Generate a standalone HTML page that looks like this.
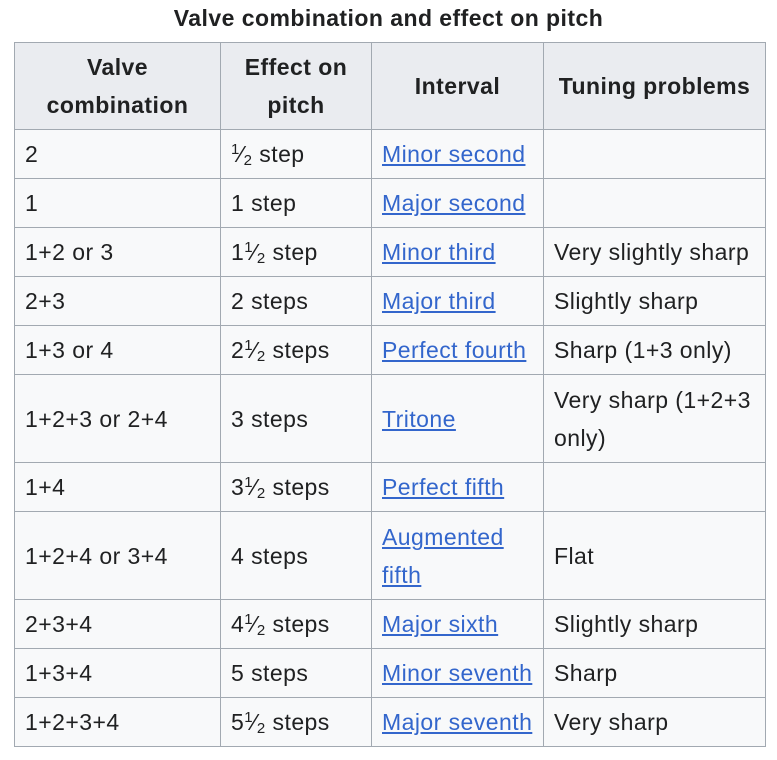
<!DOCTYPE html>
<html><head><meta charset="utf-8"><style>
html,body{margin:0;padding:0;background:#fff;}
body{width:777px;height:760px;position:relative;font-family:"Liberation Sans",Arial,sans-serif;color:#202122;}
.cap{position:absolute;top:5px;left:0;width:777px;text-align:center;font-weight:bold;font-size:23px;letter-spacing:0.45px;}
table{position:absolute;left:14px;top:42px;border-collapse:collapse;table-layout:fixed;width:751px;background:#f8f9fa;font-size:23px;letter-spacing:0.45px;}
td,th{border:1px solid #a2a9b1;padding:0 6px 0 10px;vertical-align:middle;line-height:38px;}
th{background:#eaecf0;font-weight:bold;text-align:center;height:86px;padding:0 2px;}
td{height:48px;}
tr.t td{height:87px;}
a{color:#3366cc;text-decoration:underline;}
.f sup{font-size:15px;vertical-align:8px;line-height:0;letter-spacing:0;}
.f sub{font-size:15px;vertical-align:-3px;line-height:0;}
</style></head><body>
<div class="cap">Valve combination and effect on pitch</div>
<table>
<colgroup><col style="width:206px"><col style="width:151px"><col style="width:172px"><col style="width:222px"></colgroup>
<tr><th>Valve<br>combination</th><th>Effect on<br>pitch</th><th>Interval</th><th>Tuning problems</th></tr>
<tr><td>2</td><td class="f"><sup>1</sup>⁄<sub>2</sub> step</td><td><a>Minor second</a></td><td></td></tr>
<tr><td>1</td><td>1 step</td><td><a>Major second</a></td><td></td></tr>
<tr><td>1+2 or 3</td><td class="f">1<sup>1</sup>⁄<sub>2</sub> step</td><td><a>Minor third</a></td><td>Very slightly sharp</td></tr>
<tr><td>2+3</td><td>2 steps</td><td><a>Major third</a></td><td>Slightly sharp</td></tr>
<tr><td>1+3 or 4</td><td class="f">2<sup>1</sup>⁄<sub>2</sub> steps</td><td><a>Perfect fourth</a></td><td>Sharp (1+3 only)</td></tr>
<tr class="t"><td>1+2+3 or 2+4</td><td>3 steps</td><td><a>Tritone</a></td><td>Very sharp (1+2+3<br>only)</td></tr>
<tr><td>1+4</td><td class="f">3<sup>1</sup>⁄<sub>2</sub> steps</td><td><a>Perfect fifth</a></td><td></td></tr>
<tr class="t"><td>1+2+4 or 3+4</td><td>4 steps</td><td><a>Augmented<br>fifth</a></td><td>Flat</td></tr>
<tr><td>2+3+4</td><td class="f">4<sup>1</sup>⁄<sub>2</sub> steps</td><td><a>Major sixth</a></td><td>Slightly sharp</td></tr>
<tr><td>1+3+4</td><td>5 steps</td><td><a>Minor seventh</a></td><td>Sharp</td></tr>
<tr><td>1+2+3+4</td><td class="f">5<sup>1</sup>⁄<sub>2</sub> steps</td><td><a>Major seventh</a></td><td>Very sharp</td></tr>
</table>
</body></html>
